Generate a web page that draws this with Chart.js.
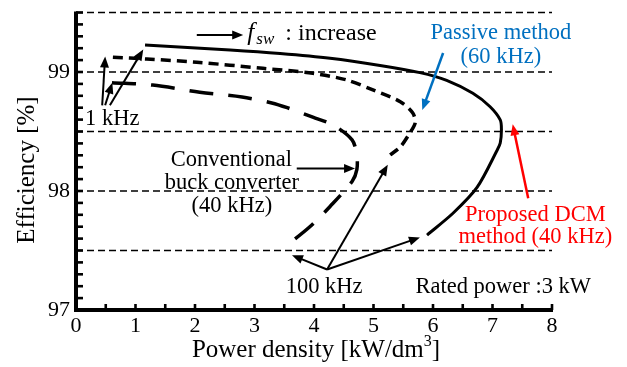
<!DOCTYPE html>
<html><head><meta charset="utf-8">
<script src="https://cdn.jsdelivr.net/npm/chart.js@4/dist/chart.umd.min.js"></script>
<style>html,body{margin:0;padding:0;background:#fff;}#wrap{width:627px;height:367px;}</style>
</head><body><div id="wrap"><canvas id="c" width="627" height="367"></canvas></div>
<script>
// ---- data ----
const proposedX = [1.16, 2.59, 3.43, 4.27, 5.11, 5.78, 6.23, 6.67, 6.96, 7.13, 7.15, 7.13, 7.08, 6.74, 6.34, 5.90];
const proposedY = [99.227, 99.185, 99.155, 99.115, 99.055, 98.995, 98.930, 98.821, 98.708, 98.597, 98.513, 98.403, 98.345, 98.03, 97.815, 97.63];
const passiveX = [0.62, 1.19, 2.03, 3.14, 3.98, 4.55, 4.99, 5.45, 5.66, 5.70, 5.61, 5.45, 5.28];
const passiveY = [99.124, 99.109, 99.082, 99.031, 98.989, 98.933, 98.849, 98.750, 98.655, 98.571, 98.487, 98.370, 98.303];
const conventionalX = [0.605, 1.29, 2.08, 2.79, 3.29, 3.55, 3.98, 4.32, 4.64, 4.72, 4.72, 4.64, 4.27, 3.93, 3.56];
const conventionalY = [98.91, 98.89, 98.83, 98.79, 98.74, 98.70, 98.62, 98.555, 98.43, 98.30, 98.18, 98.08, 97.87, 97.70, 97.55];
const xTickValues = [0, 1, 2, 3, 4, 5, 6, 7, 8];
const yTickValues = [97, 98, 99];
const yGridValues = [97.5, 98, 98.5, 99, 99.5];
const xLabel = "Power density [kW/dm";
const yLabel = "Efficiency [%]";

// annotation arrows (data units)
const arrowFrom = [[2.03, 99.31], [0.44, 98.72], [0.49, 98.72], [0.57, 98.72], [3.71, 98.19], [4.22, 97.34], [4.22, 97.34], [4.22, 97.34], [6.17, 99.16], [7.60, 97.94]];
const arrowTo   = [[2.81, 99.31], [0.49, 99.13], [0.61, 98.91], [1.13, 99.19], [4.69, 98.19], [3.63, 97.46], [5.24, 98.22], [5.78, 97.61], [5.82, 98.68], [7.34, 98.56]];
const arrowColor = ["#000", "#000", "#000", "#000", "#000", "#000", "#000", "#000", "#0070C0", "#FF0000"];

// annotation texts (data units for centre)
const noteText  = ["1 kHz", "Conventional", "buck converter", "(40 kHz)", "100 kHz", "Rated power :3 kW", "Passive method", "(60 kHz)", "Proposed DCM", "method (40 kHz)"];
const noteX     = [0.61, 2.61, 2.62, 2.62, 4.17, 7.18, 7.14, 7.14, 7.72, 7.72];
const noteY     = [98.605, 98.26, 98.07, 97.87, 97.19, 97.19, 99.33, 99.125, 97.80, 97.61];
const noteColor = ["#000", "#000", "#000", "#000", "#000", "#000", "#0070C0", "#0070C0", "#FF0000", "#FF0000"];

const SERIF = '"Liberation Serif", "Times New Roman", serif';

function pts(xs, ys) { return xs.map((x, i) => ({x: x, y: ys[i]})); }

const decor = {
  id: 'decor',
  beforeDatasetsDraw(chart) {
    const {ctx, scales: {x, y}} = chart;
    ctx.save();
    ctx.strokeStyle = '#000';
    ctx.lineWidth = 1.5;
    ctx.setLineDash([7, 4]);
    yGridValues.forEach(v => {
      const py = y.getPixelForValue(v);
      ctx.beginPath();
      ctx.moveTo(x.getPixelForValue(0), py);
      ctx.lineTo(x.getPixelForValue(8), py);
      ctx.stroke();
    });
    ctx.restore();
  },
  afterDatasetsDraw(chart) {
    const {ctx, scales: {x, y}} = chart;
    ctx.save();
    // spines
    const x0 = x.getPixelForValue(0), x8 = x.getPixelForValue(8);
    const y0 = y.getPixelForValue(97), yT = y.getPixelForValue(99.5);
    ctx.fillStyle = '#000';
    ctx.fillRect(x0 - 2, yT - 1, 4, y0 - yT + 3);
    ctx.fillRect(x0 - 2, y0 - 2, x8 - x0 + 3, 4);
    // minor ticks
    for (let i = 0; i <= 25; i++) {
      const py = y.getPixelForValue(97 + i * 0.1);
      ctx.fillRect(x0, py - 1.3, 7, 2.6);
    }
    for (let i = 0; i <= 16; i++) {
      const px = x.getPixelForValue(i * 0.5);
      ctx.fillRect(px - 1.3, y0 - 6, 2.6, 6);
    }
    // arrows
    arrowFrom.forEach((f, i) => {
      const t = arrowTo[i];
      const ax = x.getPixelForValue(f[0]), ay = y.getPixelForValue(f[1]);
      const bx = x.getPixelForValue(t[0]), by = y.getPixelForValue(t[1]);
      const ang = Math.atan2(by - ay, bx - ax);
      const L = 11, W = 4.5;
      ctx.strokeStyle = arrowColor[i];
      ctx.fillStyle = arrowColor[i];
      ctx.lineWidth = arrowColor[i] === '#000' ? 2 : 2.5;
      ctx.beginPath();
      ctx.moveTo(ax, ay);
      ctx.lineTo(bx - Math.cos(ang) * (L - 2), by - Math.sin(ang) * (L - 2));
      ctx.stroke();
      ctx.beginPath();
      ctx.moveTo(bx, by);
      ctx.lineTo(bx - Math.cos(ang) * L - Math.sin(ang) * W, by - Math.sin(ang) * L + Math.cos(ang) * W);
      ctx.lineTo(bx - Math.cos(ang) * L + Math.sin(ang) * W, by - Math.sin(ang) * L - Math.cos(ang) * W);
      ctx.closePath();
      ctx.fill();
    });
    // texts
    ctx.textAlign = 'center';
    ctx.textBaseline = 'middle';
    noteText.forEach((s, i) => {
      ctx.font = '22.5px ' + SERIF;
      ctx.fillStyle = noteColor[i];
      ctx.fillText(s, x.getPixelForValue(noteX[i]), y.getPixelForValue(noteY[i]));
    });
    // f_sw : increase
    ctx.fillStyle = '#000';
    ctx.textAlign = 'left';
    ctx.textBaseline = 'alphabetic';
    const fx = x.getPixelForValue(2.88), fy = y.getPixelForValue(99.27);
    ctx.font = 'italic 25px ' + SERIF;
    ctx.fillText('f', fx, fy);
    ctx.font = 'italic 17px ' + SERIF;
    ctx.fillText('sw', fx + 9, fy + 4);
    ctx.font = '24px ' + SERIF;
    ctx.fillText(': increase', fx + 38, fy);
    // axis titles
    ctx.font = '25px ' + SERIF;
    ctx.textAlign = 'center';
    ctx.textBaseline = 'middle';
    const cx = (x0 + x8) / 2 + 2;
    const w1 = ctx.measureText(xLabel).width;
    ctx.font = '16px ' + SERIF;
    const w2 = ctx.measureText('3').width;
    ctx.font = '25px ' + SERIF;
    const w3 = ctx.measureText(']').width;
    const total = w1 + w2 + w3;
    let sx = cx - total / 2;
    ctx.textAlign = 'left';
    ctx.fillText(xLabel, sx, 350);
    ctx.font = '16px ' + SERIF;
    ctx.fillText('3', sx + w1, 342);
    ctx.font = '25px ' + SERIF;
    ctx.fillText(']', sx + w1 + w2, 350);
    ctx.translate(27, 170);
    ctx.rotate(-Math.PI / 2);
    ctx.textAlign = 'center';
    ctx.fillText(yLabel, 0, 0);
    ctx.restore();
  }
};

new Chart(document.getElementById('c'), {
  type: 'scatter',
  data: {
    datasets: [
      {label: 'Proposed DCM method (40 kHz)', data: pts(proposedX, proposedY), showLine: true, borderColor: '#000', borderWidth: 3, pointRadius: 0, tension: 0.3, fill: false},
      {label: 'Passive method (60 kHz)', data: pts(passiveX, passiveY), showLine: true, borderColor: '#000', borderWidth: 3.5, borderDash: [10, 6], pointRadius: 0, tension: 0.3, fill: false},
      {label: 'Conventional buck converter (40 kHz)', data: pts(conventionalX, conventionalY), showLine: true, borderColor: '#000', borderWidth: 3.5, borderDash: [24, 15], pointRadius: 0, tension: 0.3, fill: false}
    ]
  },
  options: {
    responsive: false,
    animation: false,
    devicePixelRatio: 1,
    layout: {padding: {left: 0, right: 75, top: 12.5, bottom: 0}},
    plugins: {legend: {display: false}, tooltip: {enabled: false}},
    scales: {
      x: {
        type: 'linear', min: 0, max: 8,
        grid: {display: false, drawTicks: false}, border: {display: false},
        afterBuildTicks: s => { s.ticks = xTickValues.map(v => ({value: v})); },
        afterFit: s => { s.height = 57; s.paddingLeft = 0; s.paddingRight = 0; },
        ticks: {color: '#000', font: {family: SERIF, size: 22}, padding: 3, maxRotation: 0, autoSkip: false}
      },
      y: {
        type: 'linear', min: 97, max: 99.5,
        grid: {display: false, drawTicks: false}, border: {display: false},
        afterBuildTicks: s => { s.ticks = yTickValues.map(v => ({value: v})); },
        afterFit: s => { s.width = 76; s.paddingTop = 0; s.paddingBottom = 0; },
        ticks: {color: '#000', font: {family: SERIF, size: 22}, padding: 6}
      }
    }
  },
  plugins: [decor]
});
</script></body></html>
